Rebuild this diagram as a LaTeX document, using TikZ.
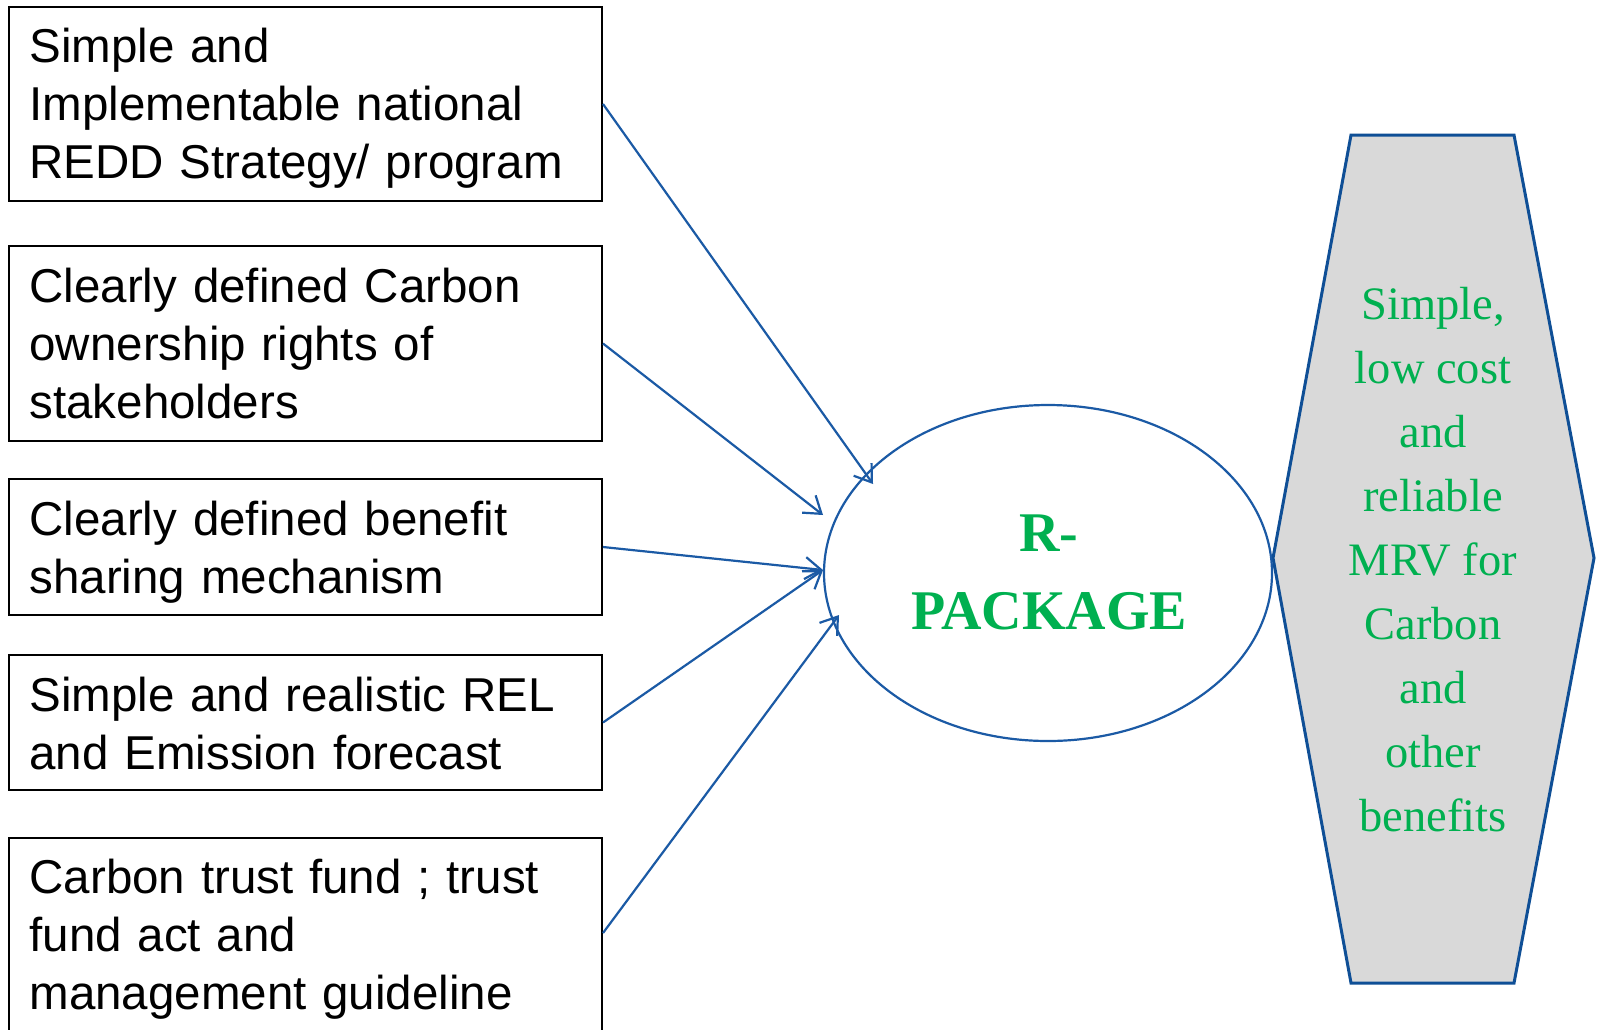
\documentclass[tikz,border=0pt]{standalone}
\usepackage{fontspec}
\setmainfont{Liberation Sans}
\newfontfamily\serifg{Liberation Serif}
\usetikzlibrary{arrows.meta,shapes.geometric}
\definecolor{lineblue}{HTML}{1B5AA5}
\definecolor{hexblue}{HTML}{0F4F96}
\definecolor{rgreen}{HTML}{00B050}
\definecolor{hexgrey}{HTML}{D9D9D9}
\begin{document}
\begin{tikzpicture}[x=1pt,y=-1pt,
  itembox/.style={draw=black, line width=2pt, minimum width=593pt, inner sep=0pt, anchor=north west},
  itemtext/.style={text width=552pt, inner sep=0pt, align=left,
    font=\fontsize{47.5}{57.8}\selectfont},
  link/.style={draw=lineblue, line width=2.2pt, -{Straight Barb[length=16pt,width=22pt,line width=2.2pt]}}]
\useasboundingbox (0,0) rectangle (1597,1029);
\fill[white] (0,0) rectangle (1597,1029);

\node[itembox, minimum height=194pt] (b1) at (8,6) {};
\node[itemtext, yshift=-4pt] (b1t) at (b1.center) {Simple and\\Implementable national\\REDD Strategy/ program};
\node[itembox, minimum height=195pt] (b2) at (8,245) {};
\node[itemtext, yshift=0pt] (b2t) at (b2.center) {Clearly defined Carbon\\ownership rights of\\stakeholders};
\node[itembox, minimum height=136pt] (b3) at (8,478) {};
\node[itemtext, yshift=-5pt] (b3t) at (b3.center) {Clearly defined benefit\\sharing mechanism};
\node[itembox, minimum height=135pt] (b4) at (8,654) {};
\node[itemtext, yshift=-1pt] (b4t) at (b4.center) {Simple and realistic REL\\and Emission forecast};
\node[itembox, minimum height=200pt] (b5) at (8,837) {};
\node[itemtext, yshift=-1pt] (b5t) at (b5.center) {Carbon trust fund ; trust\\fund act and\\management guideline};

% hexagon
\coordinate (hL) at (1273,558);
\coordinate (hTL) at (1351,135);
\coordinate (hTR) at (1514,135);
\coordinate (hR) at (1594,558);
\coordinate (hBR) at (1514,983);
\coordinate (hBL) at (1351,983);
\filldraw[fill=hexgrey, draw=hexblue, line width=3pt, line join=miter]
  (hL) -- (hTL) -- (hTR) -- (hR) -- (hBR) -- (hBL) -- cycle;
\node[align=center, text=rgreen, font=\serifg\fontsize{46.5}{64}\selectfont, inner sep=0pt] (mrv) at (1433,560)
  {Simple,\\low cost\\and\\reliable\\MRV for\\Carbon\\and\\other\\benefits};

% ellipse
\node[draw=lineblue, line width=2.2pt, ellipse, minimum width=448pt, minimum height=336pt, inner sep=0pt] (rp) at (1048,573) {};
\node[align=center, text=rgreen, font=\serifg\bfseries\fontsize{56}{78}\selectfont, inner sep=0pt] (rpt) at (1049,572) {R-\\PACKAGE};

\coordinate (t1) at (873,484);
\coordinate (t2) at (823,515);
\coordinate (t3) at (823,570);
\coordinate (t5) at (839,615);

\draw[link] (b1.east) -- (t1);
\draw[link] (b2.east) -- (t2);
\draw[link] (b3.east) -- (t3);
\draw[link] (b4.east) -- (t3);
\draw[link] ([yshift=5pt]b5.east) -- (t5);
\end{tikzpicture}
\end{document}
